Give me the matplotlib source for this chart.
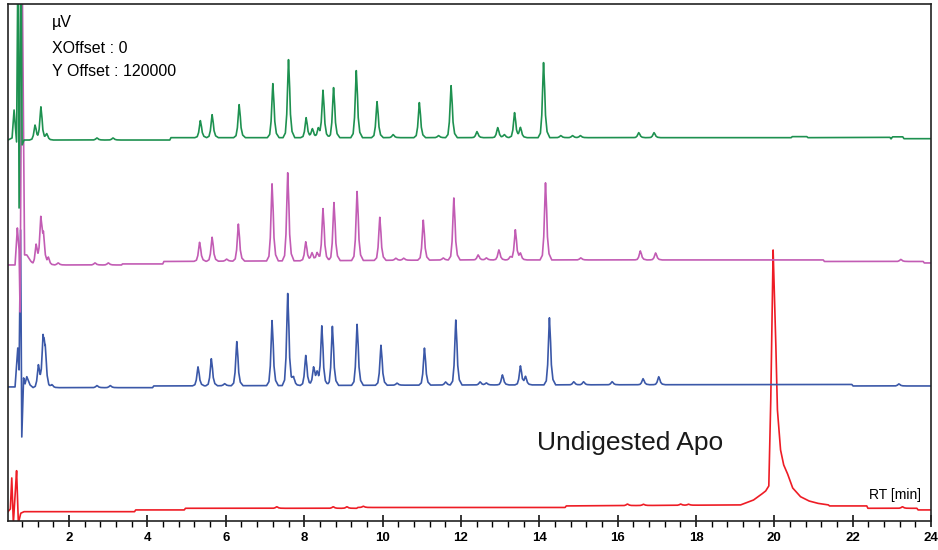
import numpy as np
import matplotlib.pyplot as plt

# chromatograms, signal in uV, stacked with Y offset 120000
y_offset = 120000

# red - undigested Apo (outline, peaks added on top)
red_t = [0.44, 0.50, 0.536, 0.577, 0.659, 0.705, 0.766, 0.85, 3.67, 3.70, 4.94, 4.97,
         9.34, 9.37, 14.66, 14.69, 19.14, 19.47, 19.65, 19.78, 19.86, 19.91, 19.97,
         20.03, 20.08, 20.16, 20.24, 20.33, 20.47, 20.67, 20.88, 21.10, 21.38, 21.41,
         22.36, 22.39, 23.64, 23.67, 24.0]
red_v = [-700, 2000, 32200, -12000, 39300, -12000, -2200, -700, -700, 1000, 1000, 2600,
         2600, 3400, 3400, 4900, 5900, 10700, 15600, 19500, 24400, 108300, 254600,
         176600, 98500, 59500, 44900, 37100, 22400, 13900, 9800, 7500, 5900, 4900,
         4900, 2600, 2600, 1000, 1000]
red_rt = [7.30, 8.74, 9.09, 9.51, 16.25, 16.66, 17.61, 17.81, 23.27]
red_h = [1500, 1500, 1500, 1200, 1500, 1200, 1200, 1000, 1500]

# blue
blue_t = [0.44, 0.62, 0.69, 0.723, 0.761, 0.792, 0.838, 0.875, 0.92, 1.004, 1.08,
          4.13, 4.16, 12.0, 21.98, 22.01, 24.0]
blue_v = [1000, 1000, 39000, 17600, 154100, -47800, 9800, 4000, 11000, 2900, 300,
          300, 1950, 2900, 3400, 1950, 1950]
blue_rt = [1.216, 1.335, 1.39, 1.56, 2.71, 3.05, 5.29, 5.63, 5.97, 6.28, 7.18, 7.58,
           7.73, 8.04, 8.24, 8.33, 8.45, 8.72, 9.35, 9.96, 10.37, 11.07, 11.61, 11.87,
           12.49, 12.65, 13.06, 13.52, 13.65, 14.26, 14.88, 15.13, 15.86, 16.65, 17.05,
           23.18]
blue_h = [21500, 44000, 30000, 3000, 2000, 2000, 18500, 26400, 2000, 43000, 63400, 89800,
          7800, 29300, 17600, 11700, 57600, 57600, 59500, 39000, 2000, 36100, 3000, 63400,
          3000, 2000, 9800, 18500, 7800, 65400, 3000, 3000, 3000, 5900, 7800,
          2000]

# pink
pink_t = [0.44, 0.62, 0.679, 0.723, 0.748, 0.80, 0.863, 0.92, 1.05, 1.10, 3.34, 3.36,
          4.39, 4.42, 12.0, 21.25, 21.28, 23.80, 23.83, 24.0]
pink_v = [0, 0, 36100, 14600, -45900, 300000, 9800, 9800, 1950, 0, 0, 1000,
          1000, 3400, 4900, 4900, 3400, 3400, 1950, 1950]
pink_rt = [1.157, 1.277, 1.344, 1.47, 1.72, 2.66, 3.00, 5.33, 5.65, 6.02, 6.32, 7.18,
           7.58, 8.04, 8.20, 8.33, 8.48, 8.76, 9.35, 9.93, 10.34, 10.54, 11.04, 11.55,
           11.82, 12.44, 12.65, 12.97, 13.26, 13.39, 13.52, 14.16, 15.06, 16.58, 16.97,
           23.23]
pink_h = [19500, 43000, 24000, 6800, 2000, 2000, 2000, 18500, 23400, 2000, 36100, 75200,
          85900, 18500, 7800, 7800, 50700, 56600, 67300, 42000, 2000, 2000, 39000, 2000,
          60500, 4900, 2000, 9800, 3000, 29300, 5900, 75200, 2000, 8800, 6800,
          2000]

# green
green_t = [0.44, 0.544, 0.595, 0.659, 0.697, 0.723, 0.774, 0.80, 0.85, 4.57, 4.60,
           20.43, 20.46, 20.83, 20.86, 22.95, 22.98, 23.02, 23.28, 23.31, 24.0]
green_v = [1900, 3900, 31200, 0, 200000, -64400, 200000, -2900, 1900, 1900, 4200,
           4200, 5200, 5200, 4200, 4500, 3000, 5000, 5000, 3200, 3200]
green_rt = [1.13, 1.28, 1.43, 2.71, 3.12, 5.35, 5.65, 6.34, 7.20, 7.60, 8.05, 8.21,
            8.36, 8.48, 8.75, 9.33, 9.86, 10.27, 10.94, 11.43, 11.75, 12.41, 12.94,
            13.11, 13.37, 13.52, 14.11, 14.55, 14.85, 15.05, 16.54, 16.93]
green_h = [14600, 32200, 5900, 2000, 2000, 16600, 22400, 32200, 52700, 76100, 19500, 8800,
           8800, 45900, 48800, 65400, 35100, 3000, 34200, 2000, 50700, 5900, 9800,
           3000, 24400, 9800, 73200, 2000, 2000, 2000, 4900, 4900]

# shape used to draw each peak (time from apex, fraction of height)
shape_dt = [-0.14, -0.08, -0.045, -0.02, 0.0, 0.025, 0.05, 0.09, 0.16]
shape_fr = [0.0, 0.06, 0.3, 0.72, 1.0, 0.72, 0.3, 0.08, 0.0]


def build_trace(tt, vv, rts, hs):
    pts = [np.arange(0.44, 24.0, 0.01), np.array(tt)]
    for rt in rts:
        pts.append(rt + np.array(shape_dt))
    t = np.unique(np.concatenate(pts))
    t = t[(t >= 0.44) & (t <= 24.0)]
    v = np.interp(t, tt, vv)
    for rt, h in zip(rts, hs):
        v = v + h * np.interp(t - rt, shape_dt, shape_fr, left=0, right=0)
    return t, v


fig = plt.figure(figsize=(9.38, 5.5), dpi=100)
ax = fig.add_axes([8 / 938, 1 - 521 / 550, 923 / 938, 517 / 550])

traces = [
    (red_t, red_v, red_rt, red_h, 0, '#ee1c25'),
    (blue_t, blue_v, blue_rt, blue_h, 1, '#3b58a8'),
    (pink_t, pink_v, pink_rt, pink_h, 2, '#c25cb4'),
    (green_t, green_v, green_rt, green_h, 3, '#1e9150'),
]
for tt, vv, rts, hs, k, col in traces:
    t, v = build_trace(tt, vv, rts, hs)
    ax.plot(t, v + k * y_offset, color=col, lw=1.2)

ax.set_xlim(0.44, 24.0)
ax.set_ylim(-9800, 494600)
ax.set_yticks([])
ax.xaxis.set_major_locator(plt.MultipleLocator(2))
ax.xaxis.set_minor_locator(plt.MultipleLocator(0.4))
ax.tick_params(axis='x', which='major', direction='inout', length=8, width=1.1,
               pad=4, labelsize=9.5)
ax.tick_params(axis='x', which='minor', direction='out', length=4, width=1.0)
for lab in ax.get_xticklabels():
    lab.set_fontweight('bold')
    lab.set_fontfamily('Liberation Sans')
for sp in ax.spines.values():
    sp.set_linewidth(1.2)
    sp.set_color('#222222')

font = 'Liberation Sans'
fig.text(52 / 938, 1 - 27 / 550, '\u00b5V', fontsize=11.5, family=font, va='baseline')
fig.text(52 / 938, 1 - 53 / 550, 'XOffset : 0', fontsize=11.5, family=font, va='baseline')
fig.text(52 / 938, 1 - 76 / 550, 'Y Offset : 120000', fontsize=11.5, family=font,
         va='baseline')
fig.text(537 / 938, 1 - 450 / 550, 'Undigested Apo', fontsize=19, family=font,
         va='baseline', color='#1a1a1a')
fig.text(869 / 938, 1 - 499 / 550, 'RT [min]', fontsize=10, family=font, va='baseline')

fig.savefig('out.png', dpi=100)
